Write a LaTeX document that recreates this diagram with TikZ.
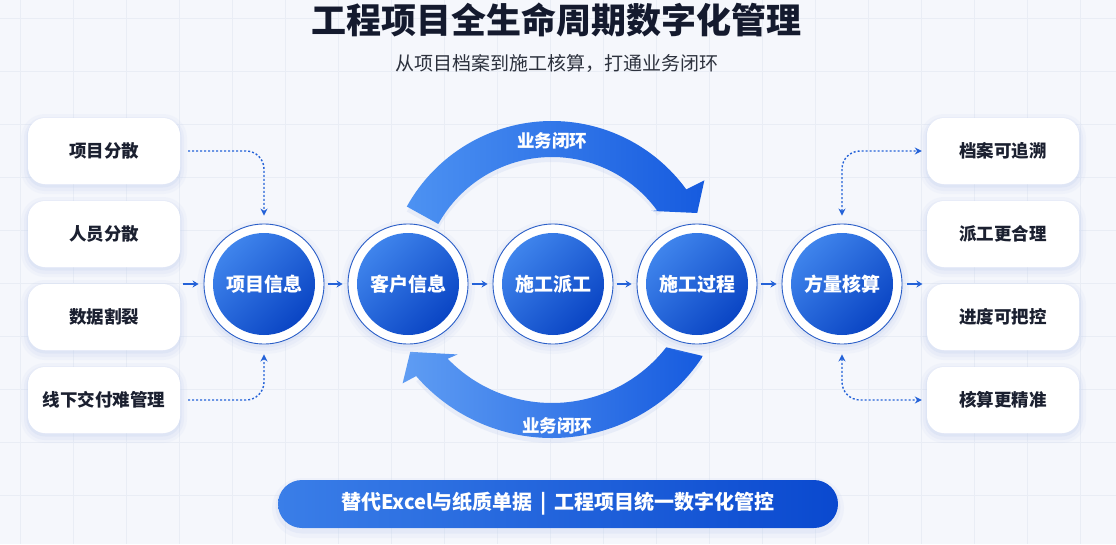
\documentclass[tikz,border=0pt]{standalone}
\usepackage{fontspec}
\setmainfont{Noto Sans CJK SC}
\usetikzlibrary{arrows.meta,calc}
\definecolor{bg}{HTML}{F5F7FC}
\definecolor{gridc}{HTML}{E9EDF5}
\definecolor{ink}{HTML}{1B2030}
\definecolor{titleink}{HTML}{141A2E}
\definecolor{subink}{HTML}{2C313D}
\definecolor{ringc}{HTML}{2B5FC8}
\definecolor{arrc}{HTML}{2462D8}
\definecolor{discA}{HTML}{3F84EC}
\definecolor{discB}{HTML}{0A45C4}
\definecolor{arcA}{HTML}{4D92F2}
\definecolor{arcB}{HTML}{165BDF}
\definecolor{banA}{HTML}{3A7EE8}
\definecolor{banB}{HTML}{0A49CF}
\definecolor{shad}{HTML}{BFCDEE}
\tikzset{
  glow/.style={
    preaction={draw=shad,line width=14pt,opacity=0.10,transform canvas={yshift=-3pt}},
    preaction={draw=shad,line width=8pt,opacity=0.14,transform canvas={yshift=-3pt}},
    preaction={draw=shad,line width=3pt,opacity=0.22,transform canvas={yshift=-2pt}}},
  infobox/.style={glow, rounded corners=17pt, fill=white, minimum width=152pt,
    minimum height=66pt, inner sep=0pt, text=ink,
    font=\fontsize{17.5}{18}\selectfont\bfseries},
  ringnode/.style={glow, circle, draw=ringc, line width=0.9pt, fill=white,
    minimum size=120pt, inner sep=0pt},
  disc/.style={circle, minimum size=102pt, inner sep=0pt, top color=discA,
    bottom color=discB, shading angle=45, text=white,
    font=\fontsize{19}{20}\selectfont\bfseries},
  flow/.style={draw=arrc, line width=1.6pt, -{Stealth[length=6pt,width=7pt]}},
  dotflow/.style={draw=arrc, line width=1.4pt, dash pattern=on 2pt off 2pt,
    rounded corners=18pt, -{Stealth[length=7pt,width=7pt]}},
  arclabel/.style={text=white, font=\fontsize{17.5}{18}\selectfont\bfseries},
  banner/.style={rounded corners=24pt, minimum width=560pt, minimum height=48pt,
    inner sep=0pt, left color=banA, right color=banB, text=white,
    font=\fontsize{20}{21}\selectfont\bfseries,
    preaction={draw=shad,line width=12pt,opacity=0.12,transform canvas={yshift=-4pt}},
    preaction={draw=shad,line width=5pt,opacity=0.2,transform canvas={yshift=-3pt}}}
}
\begin{document}
\begin{tikzpicture}[x=1pt,y=-1pt]
\useasboundingbox (0,0) rectangle (1116,544);
\fill[bg] (0,0) rectangle (1116,544);
\foreach \i in {0,...,21} {\draw[gridc,line width=0.6pt] (\i*53+20,0) -- (\i*53+20,544);}
\foreach \j in {0,...,10} {\draw[gridc,line width=0.6pt] (0,\j*53+18) -- (1116,\j*53+18);}

% title
\node[text=titleink, font=\fontsize{35}{37}\selectfont\bfseries] (title) at (556,20) {工程项目全生命周期数字化管理};
\node[text=subink, font=\fontsize{19}{20}\selectfont] (subtitle) at (557,63) {从项目档案到施工核算，打通业务闭环};

% arcs
\begin{scope}[shift={(552,287)}, y=1pt]
  \fill[shad, opacity=0.25, transform canvas={yshift=-5pt}] (151:166) arc[start angle=151, end angle=36, radius=166] -- (36:130) arc[start angle=36, end angle=151, radius=130] -- cycle;
  \shade[left color=arcA, right color=arcB] (151:166) arc[start angle=151, end angle=36, radius=166] -- (35:186) -- (27:163) -- (37.5:125) -- (36:130) arc[start angle=36, end angle=151, radius=130] -- cycle;
\end{scope}
\begin{scope}[shift={(552,258)}, y=1pt]
  \fill[shad, opacity=0.25, transform canvas={yshift=-5pt}] (-33:180) arc[start angle=-33, end angle=-139, radius=180] -- (-136:145) arc[start angle=-136, end angle=-38, radius=145] -- cycle;
  \shade[left color=arcA!90!white, right color=arcB] (-33:180) arc[start angle=-33, end angle=-139, radius=180] -- (-140:195) -- (-146.5:170) -- (-134.4:135) -- (-136:145) arc[start angle=-136, end angle=-38, radius=145] -- cycle;
\end{scope}
\node[arclabel] (toplabel) at (552,141) {业务闭环};
\node[arclabel] (botlabel) at (557,426) {业务闭环};

% left boxes
\node[infobox] (lb1) at (104,151) {项目分散};
\node[infobox] (lb2) at (104,234) {人员分散};
\node[infobox] (lb3) at (104,317) {数据割裂};
\node[infobox] (lb4) at (104,400) {线下交付难管理};
% right boxes
\node[infobox] (rb1) at (1003,151) {档案可追溯};
\node[infobox] (rb2) at (1003,234) {派工更合理};
\node[infobox] (rb3) at (1003,317) {进度可把控};
\node[infobox] (rb4) at (1003,400) {核算更精准};

% circles
\foreach \n/\x/\t in {1/264/项目信息, 2/408/客户信息, 3/553/施工派工, 4/697/施工过程, 5/842/方量核算} {
  \node[ringnode] (c\n) at (\x,284) {};
  \node[disc] (d\n) at (c\n) {\t};
}

% flow arrows
\coordinate (in) at ([xshift=-21pt]c1.west);
\coordinate (out) at ([xshift=20pt]c5.east);
\draw[flow] (in) -- ([xshift=-5pt]c1.west);
\draw[flow] ([xshift=4pt]c1.east) -- ([xshift=-5pt]c2.west);
\draw[flow] ([xshift=4pt]c2.east) -- ([xshift=-5pt]c3.west);
\draw[flow] ([xshift=4pt]c3.east) -- ([xshift=-5pt]c4.west);
\draw[flow] ([xshift=4pt]c4.east) -- ([xshift=-5pt]c5.west);
\draw[flow] ([xshift=5pt]c5.east) -- (out);

% dotted connectors
\draw[dotflow] ([xshift=8pt]lb1.east) -| ([yshift=8pt]c1.north);
\draw[dotflow] ([xshift=8pt]lb4.east) -| ([yshift=-10pt]c1.south);
\draw[dotflow, {Stealth[length=7pt,width=7pt]}-{Stealth[length=7pt,width=7pt]}] ([yshift=8pt]c5.north) |- ([xshift=-5pt]rb1.west);
\draw[dotflow, {Stealth[length=7pt,width=7pt]}-{Stealth[length=7pt,width=7pt]}] ([yshift=-10pt]c5.south) |- ([xshift=-5pt]rb4.west);

% banner
\node[banner] (ban) at (558,504) {替代Excel与纸质单据 \,|\, 工程项目统一数字化管控};
\end{tikzpicture}
\end{document}
